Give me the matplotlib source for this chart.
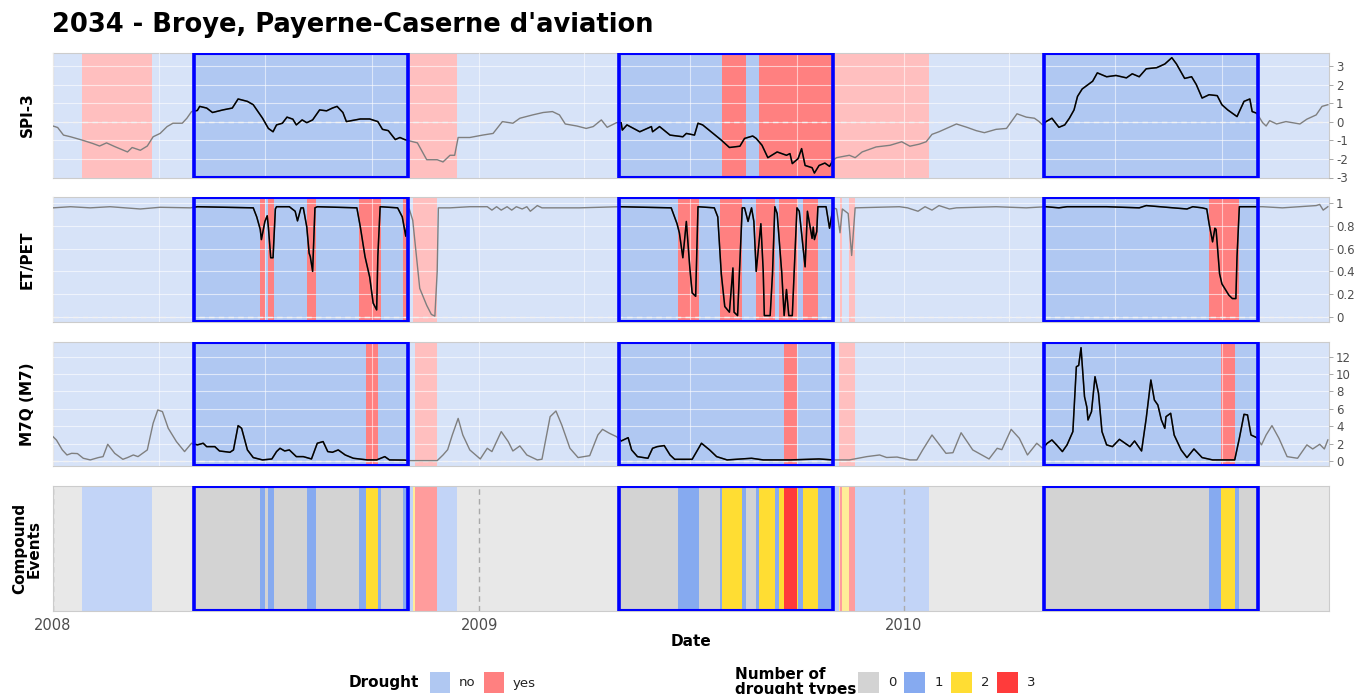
import numpy as np
import pandas as pd
import matplotlib
matplotlib.use("Agg")
import matplotlib.pyplot as plt
import matplotlib.dates as mdates
from matplotlib.patches import Rectangle

plt.rcParams['font.family'] = ['DejaVu Sans']

# ---------------- data ----------------
title = "2034 - Broye, Payerne-Caserne d'aviation"
start_date = '2008-01-01'
end_date = '2010-12-31'
year_labels = ['2008', '2009', '2010']

event_starts = ['2008-05-01', '2009-05-01', '2010-05-01']
event_ends = ['2008-10-31', '2009-10-31', '2010-10-31']

# SPI-3: days since start_date, value
spi_day = [0, 4, 9, 15, 25, 34, 40, 46, 53, 64, 68, 75, 81, 86, 92, 98, 103, 111, 115, 119,
           124, 126, 132, 137, 146, 154, 159, 167, 172, 180, 185, 189, 192, 197, 201, 206, 209, 214, 218, 223,
           229, 235, 240, 244, 249, 252, 264, 272, 279, 283, 288, 294, 298, 302, 306, 313, 321, 330, 335, 341,
           345, 348, 358, 369, 378, 386, 395, 401, 412, 421, 429, 435, 440, 450, 458, 464, 471, 476, 484, 488,
           489, 493, 504, 514, 515, 521, 530, 541, 544, 551, 554, 558, 567, 574, 581, 590, 594, 601, 604, 609,
           614, 622, 630, 633, 635, 640, 643, 646, 652, 654, 658, 663, 667, 670, 673, 684, 689, 695, 707, 719,
           729, 736, 744, 750, 755, 761, 776, 785, 793, 800, 810, 819, 828, 836, 843, 847, 850, 853, 858, 864,
           869, 873, 877, 880, 884, 893, 897, 905, 913, 922, 927, 933, 939, 948, 955, 961, 965, 972, 978, 982,
           987, 993, 1000, 1004, 1009, 1017, 1023, 1028, 1030, 1034, 1039, 1042, 1045, 1051, 1059, 1071, 1077, 1085, 1090, 1095]
spi_val = [-0.22, -0.30, -0.71, -0.80, -0.98, -1.16, -1.30, -1.13, -1.33, -1.62,
           -1.38, -1.53, -1.30, -0.80, -0.62, -0.25, -0.07, -0.07, 0.20, 0.56,
           0.62, 0.84, 0.75, 0.51, 0.65, 0.75, 1.24, 1.11, 0.93, 0.20,
           -0.35, -0.53, -0.16, -0.07, 0.26, 0.15, -0.16, 0.11, -0.04, 0.11,
           0.65, 0.60, 0.75, 0.84, 0.51, 0.02, 0.16, 0.16, 0.02, -0.40,
           -0.47, -0.95, -0.84, -0.95, -1.02, -1.13, -2.04, -2.04, -2.16, -1.80,
           -1.80, -0.84, -0.84, -0.71, -0.62, 0.02, -0.07, 0.20, 0.38, 0.51,
           0.56, 0.38, -0.11, -0.22, -0.35, -0.25, 0.11, -0.29, -0.04, -0.04,
           -0.44, -0.16, -0.53, -0.25, -0.53, -0.25, -0.71, -0.80, -0.62, -0.71,
           -0.07, -0.16, -0.62, -0.98, -1.38, -1.31, -0.89, -0.76, -0.89, -1.26,
           -1.93, -1.62, -1.80, -1.71, -2.25, -1.98, -1.44, -2.35, -2.47, -2.76,
           -2.35, -2.22, -2.40, -2.07, -1.93, -1.80, -1.93, -1.62, -1.35, -1.26,
           -1.07, -1.31, -1.20, -1.07, -0.67, -0.53, -0.11, -0.29, -0.47, -0.58,
           -0.40, -0.35, 0.44, 0.26, 0.20, 0.02, -0.16, 0.02, 0.20, -0.29,
           -0.16, 0.20, 0.65, 1.38, 1.78, 2.20, 2.65, 2.44, 2.51, 2.38,
           2.60, 2.44, 2.87, 2.93, 3.13, 3.47, 3.13, 2.35, 2.44, 2.02,
           1.29, 1.47, 1.42, 0.93, 0.65, 0.29, 1.11, 1.24, 0.56, 0.47,
           -0.04, -0.22, 0.07, -0.11, 0.02, -0.11, 0.15, 0.38, 0.84, 0.93]

# ET/PET
et_day = [0, 15, 32, 49, 75, 92, 118, 124, 172, 175, 178, 179, 182, 184, 185, 187, 189, 191, 192, 203,
          208, 210, 213, 215, 218, 220, 221, 223, 225, 227, 261, 264, 268, 272, 275, 278, 279, 281, 296, 300,
          303, 305, 306, 309, 312, 315, 321, 325, 328, 330, 331, 341, 358, 373, 377, 381, 385, 390, 394, 398,
          403, 407, 410, 416, 420, 452, 487, 531, 536, 538, 541, 544, 547, 549, 552, 554, 568, 571, 574, 577,
          581, 584, 585, 588, 592, 594, 597, 600, 602, 604, 608, 610, 611, 616, 618, 620, 622, 626, 628, 630,
          632, 635, 639, 641, 646, 648, 652, 653, 654, 656, 657, 664, 667, 670, 673, 676, 678, 683, 686, 689,
          727, 734, 743, 749, 755, 761, 770, 776, 810, 836, 853, 864, 871, 905, 933, 939, 974, 979, 987, 991,
          993, 996, 998, 999, 1002, 1004, 1010, 1013, 1016, 1017, 1019, 1034, 1039, 1056, 1071, 1085, 1088, 1091, 1095]
et_val = [0.96, 0.97, 0.96, 0.97, 0.95, 0.965, 0.96, 0.97, 0.96, 0.88,
          0.77, 0.68, 0.84, 0.89, 0.79, 0.52, 0.52, 0.95, 0.97, 0.97,
          0.93, 0.845, 0.96, 0.96, 0.79, 0.56, 0.53, 0.40, 0.96, 0.97,
          0.96, 0.79, 0.53, 0.35, 0.12, 0.06, 0.53, 0.97, 0.96, 0.88,
          0.71, 0.90, 0.95, 0.85, 0.55, 0.25, 0.10, 0.02, 0.005, 0.40,
          0.96, 0.96, 0.97, 0.97, 0.94, 0.97, 0.94, 0.97, 0.94, 0.97,
          0.95, 0.97, 0.93, 0.98, 0.96, 0.96, 0.97, 0.96, 0.82, 0.74,
          0.52, 0.84, 0.43, 0.21, 0.18, 0.97, 0.96, 0.88, 0.38, 0.09,
          0.04, 0.43, 0.04, 0.01, 0.96, 0.96, 0.84, 0.96, 0.84, 0.40,
          0.82, 0.41, 0.01, 0.01, 0.38, 0.97, 0.91, 0.38, 0.01, 0.24,
          0.01, 0.01, 0.96, 0.93, 0.44, 0.93, 0.69, 0.79, 0.68, 0.75,
          0.97, 0.97, 0.78, 0.96, 0.95, 0.74, 0.95, 0.91, 0.54, 0.96,
          0.97, 0.96, 0.93, 0.97, 0.94, 0.98, 0.95, 0.96, 0.97, 0.96,
          0.97, 0.96, 0.97, 0.97, 0.96, 0.98, 0.95, 0.97, 0.96, 0.95,
          0.82, 0.66, 0.78, 0.77, 0.38, 0.29, 0.19, 0.16, 0.16, 0.53,
          0.97, 0.97, 0.97, 0.96, 0.97, 0.98, 0.99, 0.94, 0.97]

# M7Q (M7)
m7_day = [0, 3, 8, 12, 16, 21, 26, 32, 39, 43, 47, 53, 60, 64, 69, 73, 81, 86, 90, 94,
          99, 106, 113, 119, 124, 129, 132, 139, 143, 152, 155, 159, 162, 167, 172, 180, 188, 192, 195, 199,
          203, 209, 215, 222, 227, 232, 236, 240, 245, 251, 258, 270, 278, 285, 289, 302, 306, 330, 335, 339,
          343, 348, 352, 358, 367, 373, 377, 385, 391, 395, 401, 407, 416, 420, 427, 432, 437, 444, 451, 461,
          468, 472, 478, 484, 488, 494, 497, 502, 511, 515, 519, 525, 530, 534, 549, 557, 564, 570, 579, 600,
          610, 633, 658, 670, 684, 699, 710, 716, 725, 736, 742, 747, 755, 767, 773, 780, 790, 804, 811, 815,
          823, 830, 837, 845, 850, 854, 858, 862, 867, 871, 876, 879, 881, 883, 886, 888, 889, 892, 895, 898,
          901, 905, 910, 916, 925, 929, 935, 939, 943, 946, 949, 952, 955, 956, 960, 963, 969, 974, 980, 987,
          996, 1015, 1019, 1023, 1026, 1029, 1034, 1038, 1042, 1047, 1053, 1060, 1069, 1077, 1082, 1088, 1092, 1095]
m7_val = [2.8, 2.4, 1.27, 0.69, 0.88, 0.85, 0.31, 0.12, 0.39, 0.5,
          1.92, 0.88, 0.19, 0.39, 0.69, 0.5, 1.27, 4.34, 5.87, 5.68,
          3.76, 2.23, 1.08, 2.04, 1.85, 2.04, 1.65, 1.65, 1.15, 1.0,
          1.27, 4.07, 3.76, 1.27, 0.39, 0.12, 0.23, 1.08, 1.46, 1.15,
          1.27, 0.5, 0.5, 0.23, 2.04, 2.23, 1.08, 1.0, 1.27, 0.69,
          0.31, 0.12, 0.12, 0.5, 0.12, 0.1, 0.04, 0.04, 0.69, 1.3,
          3.0, 4.9, 2.99, 1.27, 0.23, 1.46, 1.08, 3.38, 2.23, 1.15,
          1.73, 0.69, 0.12, 0.2, 5.1, 5.75, 4.14, 1.46, 0.39, 0.61,
          2.99, 3.64, 3.18, 2.8, 2.3, 2.68, 1.27, 0.5, 0.31, 1.46,
          1.65, 1.77, 0.69, 0.19, 0.19, 2.04, 1.27, 0.5, 0.12, 0.31,
          0.12, 0.12, 0.23, 0.12, 0.12, 0.5, 0.69, 0.4, 0.45, 0.12,
          0.12, 1.27, 2.99, 0.88, 0.95, 3.25, 1.27, 0.23, 1.46, 1.3,
          3.64, 2.61, 0.69, 2.04, 1.46, 2.04, 2.42, 1.85, 1.08, 1.85,
          3.38, 10.85, 11.0, 13.04, 7.4, 6.2, 4.72, 5.68, 9.7, 7.8,
          3.38, 1.85, 1.65, 2.49, 1.65, 2.3, 1.15, 4.91, 9.32, 7.02,
          6.44, 4.72, 3.76, 5.1, 5.49, 2.99, 1.27, 0.39, 1.38, 0.39,
          0.12, 0.12, 2.61, 5.37, 5.3, 2.99, 2.68, 1.85, 2.99, 4.07,
          2.61, 0.5, 0.31, 1.85, 1.38, 1.92, 1.38, 2.42]

# drought periods (days since start_date, [start, end))
spi_drought = [(25, 85), (306, 347), (575, 595), (606, 752)]
et_drought = [(178, 182), (185, 190), (218, 226), (263, 282), (301, 304), (309, 330),
              (537, 555), (573, 592), (604, 620), (624, 640), (644, 657), (676, 678),
              (684, 689), (993, 1019)]
m7_drought = [(269, 279), (311, 330), (628, 639), (675, 689), (1003, 1015)]

panel_labels = ['SPI-3', 'ET/PET', 'M7Q (M7)', 'Compound\nEvents']
spi_ticks = [-3, -2, -1, 0, 1, 2, 3]
et_ticks = [0, 0.2, 0.4, 0.6, 0.8, 1]
m7_ticks = [0, 2, 4, 6, 8, 10, 12]

drought_labels = ['no', 'yes']
count_labels = ['0', '1', '2', '3']

# ---------------- styles ----------------
DROUGHT_COLORS = ['#b0c8f2', '#ff8080']
COUNT_COLORS = ['#d3d3d3', '#86aaf0', '#ffdd33', '#ff3b3b']
EVENT_COLOR = '#0000ff'

W, H = 1356, 694
fig = plt.figure(figsize=(W / 100, H / 100), dpi=100)


def fx(px):
    return px / W


def fy(py):
    return 1 - py / H


start = pd.Timestamp(start_date)
n_days = (pd.Timestamp(end_date) - start).days + 1
x0 = mdates.date2num(start)


def to_x(d):
    return x0 + np.asarray(d, dtype=float)


year_x = [mdates.date2num(pd.Timestamp(f'{y}-01-01')) for y in year_labels]

events = [((pd.Timestamp(s) - start).days, (pd.Timestamp(e) - start).days + 1)
          for s, e in zip(event_starts, event_ends)]
in_event = np.zeros(n_days, dtype=int)
for s, e in events:
    in_event[s:e] = 1


def flags(periods):
    f = np.zeros(n_days, dtype=int)
    for s, e in periods:
        f[s:e] = 1
    return f


def runs(code):
    idx = np.flatnonzero(np.diff(code)) + 1
    st = np.r_[0, idx]
    en = np.r_[idx, len(code)]
    return [(a, b, code[a]) for a, b in zip(st, en)]


panel_px = [(52.5, 177.5), (197.3, 321.7), (341.7, 466.0), (486.3, 611.0)]
axes = []
for top, bot in panel_px:
    ax = fig.add_axes([fx(53), fy(bot), fx(1329) - fx(53), fy(top) - fy(bot)])
    axes.append(ax)


def style_axis(ax, ticks=None, ylim=None):
    ax.set_xlim(to_x(0), to_x(n_days))
    ax.set_xticks(year_x)
    ax.set_xticklabels(year_labels)
    ax.xaxis.set_minor_locator(mdates.MonthLocator(bymonth=[4, 7, 10]))
    ax.tick_params(axis='x', which='both', length=0, labelbottom=False)
    for sp in ax.spines.values():
        sp.set_color('#cccccc')
        sp.set_linewidth(0.8)
    ax.set_axisbelow(False)
    if ticks is not None:
        ax.set_ylim(*ylim)
        ax.yaxis.tick_right()
        ax.set_yticks(ticks)
        ax.set_yticklabels([f'{t:g}' for t in ticks])
        ax.tick_params(axis='y', length=3, width=0.6, color='#999999', labelsize=8.5,
                       labelcolor='#4d4d4d', pad=2)
        ax.grid(True, which='both', axis='x', color='white', lw=0.8, alpha=0.55)
        ax.grid(True, which='major', axis='y', color='white', lw=0.8, alpha=0.6)
    else:
        ax.set_ylim(0, 1)
        ax.set_yticks([])


def draw_events(ax):
    for s, e in events:
        ax.add_patch(Rectangle((to_x(s), 0.008), e - s, 0.984, transform=ax.get_xaxis_transform(),
                               fill=False, edgecolor=EVENT_COLOR, lw=1.5, zorder=6))
        ax.axvline(to_x(s), color=EVENT_COLOR, lw=2.6, zorder=6)
        ax.axvline(to_x(e), color=EVENT_COLOR, lw=2.6, zorder=6)


series = [(spi_day, spi_val, spi_drought, spi_ticks, (-3.0, 3.75)),
          (et_day, et_val, et_drought, et_ticks, (-0.044, 1.053)),
          (m7_day, m7_val, m7_drought, m7_ticks, (-0.58, 13.73))]

for ax, (day, val, periods, ticks, ylim) in zip(axes[:3], series):
    style_axis(ax, ticks, ylim)
    code = flags(periods)
    for s, e, c in runs(code + 2 * in_event):
        ax.axvspan(to_x(s), to_x(e), facecolor=DROUGHT_COLORS[c % 2],
                   alpha=1.0 if c >= 2 else 0.5, lw=0, zorder=0)
    ax.axhline(0, color='#f2f2f2', ls=(0, (4, 3)), lw=1.0, zorder=2.8)
    xs = to_x(day)
    ax.plot(xs, val, color='#7f7f7f', lw=1.0, zorder=3)
    for s, e in events:
        ln, = ax.plot(xs, val, color='black', lw=1.1, zorder=3.2)
        clip = Rectangle((to_x(s), 0), e - s, 1, transform=ax.get_xaxis_transform())
        ln.set_clip_path(clip)
    draw_events(ax)

# compound panel
axc = axes[3]
style_axis(axc)
count = flags(spi_drought) + flags(et_drought) + flags(m7_drought)
for s, e, c in runs(count + 4 * in_event):
    axc.axvspan(to_x(s), to_x(e), facecolor=COUNT_COLORS[c % 4],
                alpha=1.0 if c >= 4 else 0.5, lw=0, zorder=0)
for xv in year_x:
    axc.axvline(xv, color='#aaaaaa', ls=(0, (4, 3)), lw=1.0, zorder=2)
draw_events(axc)
axc.tick_params(axis='x', which='major', labelbottom=True, labelsize=10.5,
                labelcolor='#4d4d4d', pad=5)

# labels
fig.text(fx(52), fy(25), title, fontsize=18.5, fontweight='bold', ha='left', va='center')
for (top, bot), lab in zip(panel_px, panel_labels):
    fig.text(fx(27), fy((top + bot) / 2), lab, rotation=90, fontsize=11, fontweight='bold',
             ha='center', va='center', multialignment='center', linespacing=0.95)
fig.text(fx(691), fy(641), 'Date', fontsize=11, fontweight='bold', ha='center', va='center')


# legends
def swatch(xl, xr, color):
    fig.add_artist(Rectangle((fx(xl), fy(693)), fx(xr) - fx(xl), fy(672) - fy(693),
                             transform=fig.transFigure, facecolor=color, edgecolor='none'))


fig.text(fx(349), fy(683), 'Drought', fontsize=11, fontweight='bold', ha='left', va='center')
for i, lab in enumerate(drought_labels):
    xl = 430 + i * 53.5
    swatch(xl, xl + 20, DROUGHT_COLORS[i])
    fig.text(fx(xl + 29), fy(683), lab, fontsize=9.5, color='#222222', ha='left', va='center')

fig.text(fx(735), fy(682), 'Number of\ndrought types', fontsize=11, fontweight='bold',
         ha='left', va='center', linespacing=0.95)
for i, lab in enumerate(count_labels):
    xl = 858 + i * 46.3
    swatch(xl, xl + 21, COUNT_COLORS[i])
    fig.text(fx(xl + 30), fy(683), lab, fontsize=9.5, color='#222222', ha='left', va='center')

fig.savefig('out.png', dpi=100)
